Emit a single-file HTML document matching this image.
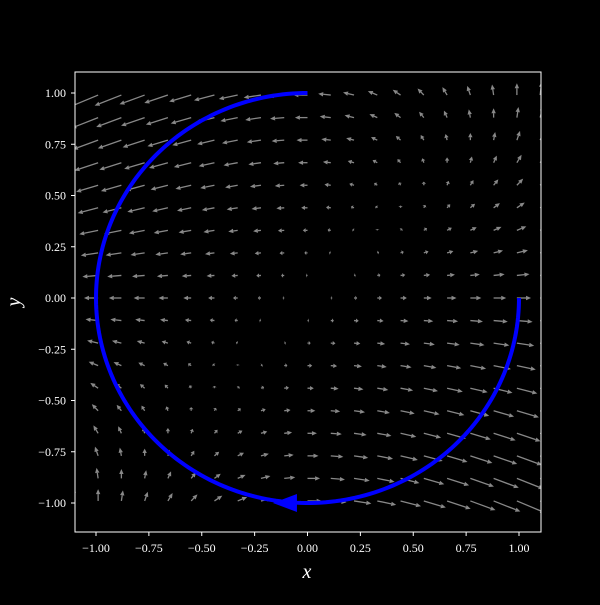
<!DOCTYPE html>
<html><head><meta charset="utf-8"><style>
html,body{margin:0;padding:0;background:#000;}
svg text{font-family:"Liberation Serif",serif;fill:#fff;}
</style></head><body>
<svg id="chart" width="600" height="600" viewBox="0 0 600 600">
<rect x="0" y="0" width="600" height="600" fill="#000"/>
<defs><clipPath id="clip"><rect x="75" y="72" width="466" height="460"/></clipPath></defs>
<g id="quiver" clip-path="url(#clip)"></g>
<g id="curve"></g>
<rect x="75" y="72" width="466" height="460" fill="none" stroke="#fff" stroke-width="1"/>
<g id="axes"></g>
<text x="307" y="578" font-size="20" font-style="italic" text-anchor="middle">x</text>
<text x="20" y="302" font-size="20" font-style="italic" text-anchor="middle" transform="rotate(-90 20 302)">y</text>
</svg>
<script>
const xTicks=[-1,-0.75,-0.5,-0.25,0,0.25,0.5,0.75,1];
const yTicks=[-1,-0.75,-0.5,-0.25,0,0.25,0.5,0.75,1];
const gridX=[-1.1,-0.99,-0.88,-0.77,-0.66,-0.55,-0.44,-0.33,-0.22,-0.11,0,0.11,0.22,0.33,0.44,0.55,0.66,0.77,0.88,0.99,1.1];
const gridY=[-0.99,-0.88,-0.77,-0.66,-0.55,-0.44,-0.33,-0.22,-0.11,0,0.11,0.22,0.33,0.44,0.55,0.66,0.77,0.88,0.99];
const curveStartDeg=0, curveEndDeg=-270, curveRadius=1;
const arrowAt=[-0.05,-1];
const NS="http://www.w3.org/2000/svg";
const sx=v=>307.5+v*211.5;
const sy=v=>298-v*205;
function mk(t,a){const e=document.createElementNS(NS,t);for(const k in a)e.setAttribute(k,a[k]);return e;}
const axes=document.getElementById('axes');
xTicks.forEach(v=>{
 const l=mk('line',{x1:sx(v),x2:sx(v),y1:532,y2:536,stroke:'#fff'});
 
 
 axes.appendChild(l);
 const t=mk('text',{x:sx(v),y:552,'font-size':12,'text-anchor':'middle'});
 t.textContent=(v<0?'\u2212':'')+Math.abs(v).toFixed(2);
 
 
 axes.appendChild(t);
});
yTicks.forEach(v=>{
 const l=mk('line',{x1:71,x2:75,y1:sy(v),y2:sy(v),stroke:'#fff'});
 
 
 axes.appendChild(l);
 const t=mk('text',{x:66,y:sy(v)+4,'font-size':12,'text-anchor':'end'});
 t.textContent=(v<0?'\u2212':'')+Math.abs(v).toFixed(2);
 
 
 axes.appendChild(t);
});
const q=document.getElementById('quiver');
const scale=11;
gridY.forEach(y=>gridX.forEach(x=>{
 const u=1.3*(x-y), v=1.1*x*y;
 const L=Math.hypot(u,v)*scale; if(L<0.8)return;
 const ang=Math.atan2(-v,u);
 const x0=sx(x),y0=sy(y);
 const g=mk('g',{transform:`translate(${x0},${y0}) rotate(${ang*180/Math.PI})`});
 
 
 const h=Math.min(5,L*0.6);
 g.appendChild(mk('line',{x1:0,y1:0,x2:L-h,y2:0,stroke:'#888','stroke-width':1.3}));
 g.appendChild(mk('polygon',{points:`${L},0 ${L-h},-2.2 ${L-h},2.2`,fill:'#888'}));
 q.appendChild(g);
}));
const c=document.getElementById('curve');
let d='';
for(let i=0;i<=200;i++){const a=(curveStartDeg+(curveEndDeg-curveStartDeg)*i/200)*Math.PI/180;
 d+=(i?'L':'M')+sx(curveRadius*Math.cos(a)).toFixed(2)+','+sy(curveRadius*Math.sin(a)).toFixed(2);}
const p=mk('path',{d:d,fill:'none',stroke:'#0000ff','stroke-width':4});


c.appendChild(p);
const ax=sx(arrowAt[0]),ay=sy(arrowAt[1]);
const ah=mk('polygon',{points:`${ax-24},${ay} ${ax},${ay-9} ${ax},${ay+9}`,fill:'#0000ff'});


c.appendChild(ah);
</script>
</body></html>
